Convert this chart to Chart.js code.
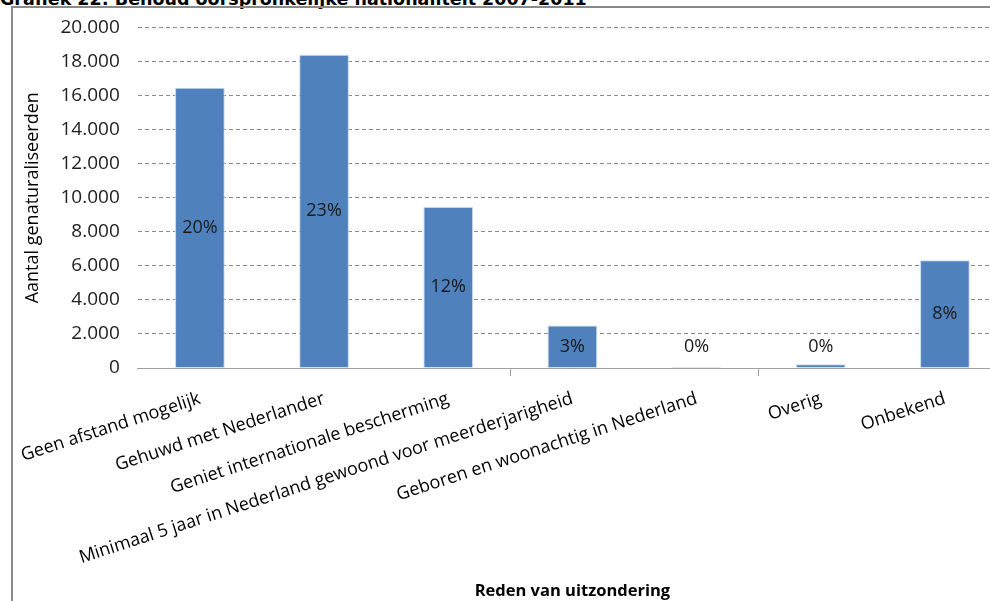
<!DOCTYPE html>
<html>
<head>
<meta charset="utf-8">
<script src="https://cdn.jsdelivr.net/npm/chart.js@4"></script>
<style>
  html, body { margin: 0; padding: 0; background: #fff; overflow: hidden; }
  #wrap { position: relative; width: 990px; height: 601px; overflow: hidden; }
  #titel { position: absolute; left: 0; top: -10px; font: bold 17.5px "DejaVu Sans", sans-serif; line-height: 18px; color: #000; white-space: nowrap; }
  #kader { position: absolute; left: 11px; top: 6px; width: 1000px; height: 600px; border-left: 2px solid #8a8a8a; border-top: 2px solid #8a8a8a; }
  canvas { position: absolute; left: 0; top: 0; }
</style>
</head>
<body>
<div id="wrap">
  <div id="titel">Grafiek 22: Behoud oorspronkelijke nationaliteit 2007-2011</div>
  <div id="kader"></div>
  <canvas id="grafiek" width="1010" height="601"></canvas>
</div>
<script>
const categorieen = [
  "Geen afstand mogelijk",
  "Gehuwd met Nederlander",
  "Geniet internationale bescherming",
  "Minimaal 5 jaar in Nederland gewoond voor meerderjarigheid",
  "Geboren en woonachtig in Nederland",
  "Overig",
  "Onbekend"
];
const aantallen = [16460, 18400, 9460, 2500, 60, 220, 6330];
const aandelen = ["20%", "23%", "12%", "3%", "0%", "0%", "8%"];
const yLabels = ["0", "2.000", "4.000", "6.000", "8.000", "10.000", "12.000", "14.000", "16.000", "18.000", "20.000"];

// percentage labels: in the bar, or just above it when the bar is too low
const labelPlugin = {
  id: "aandeelLabels",
  afterDatasetsDraw(chart) {
    const ctx = chart.ctx;
    const meta = chart.getDatasetMeta(0);
    ctx.save();
    ctx.font = '18px "Open Sans", sans-serif';
    ctx.fillStyle = "#1a1a1a";
    ctx.textAlign = "center";
    ctx.textBaseline = "middle";
    meta.data.forEach((bar, i) => {
      const h = bar.base - bar.y;
      const y = h > 30 ? (bar.y + bar.base) / 2 : bar.base - 21;
      ctx.fillText(aandelen[i], bar.x, y);
    });
    ctx.restore();
  }
};

new Chart(document.getElementById("grafiek"), {
  type: "bar",
  data: {
    labels: categorieen,
    datasets: [{
      data: aantallen,
      backgroundColor: "#4f81bd",
      borderColor: "#c6d6ea",
      borderWidth: 1,
      barPercentage: 0.4,
      categoryPercentage: 1
    }]
  },
  options: {
    responsive: false,
    animation: false,
    layout: { padding: { top: 12, right: 3, bottom: 0, left: 21 } },
    plugins: {
      legend: { display: false },
      tooltip: { enabled: false }
    },
    scales: {
      x: {
        afterFit: (s) => { s.height = 233; },
        grid: {
          drawOnChartArea: false,
          drawTicks: true,
          tickLength: 8,
          color: (c) => (c.index === 3 || c.index === 5 ? "#a0a0a0" : "rgba(0,0,0,0)")
        },
        border: { color: "#a0a0a0", width: 1 },
        ticks: {
          autoSkip: false,
          minRotation: 18,
          maxRotation: 18,
          padding: 12,
          color: "#000",
          font: { family: "Open Sans", size: 18 }
        },
        title: {
          display: true,
          text: "Reden van uitzondering",
          color: "#000",
          font: { family: "Open Sans", size: 16.5, weight: "bold" },
          padding: { top: 0, bottom: 0 }
        }
      },
      y: {
        min: 0,
        max: 20000,
        afterFit: (s) => { s.width = 116; },
        grid: {
          drawTicks: false,
          color: "#8a8a8a",
          lineWidth: 1
        },
        border: { display: false, dash: [4, 3] },
        ticks: {
          stepSize: 2000,
          padding: 18,
          color: "#222",
          font: { family: "Open Sans", size: 19, lineHeight: 1.0 },
          callback: (v) => yLabels[v / 2000]
        },
        title: {
          display: true,
          text: "Aantal genaturaliseerden",
          color: "#000",
          font: { family: "Open Sans", size: 18 },
          padding: { top: 0, bottom: 10 }
        }
      }
    }
  },
  plugins: [labelPlugin]
});
</script>
</body>
</html>
